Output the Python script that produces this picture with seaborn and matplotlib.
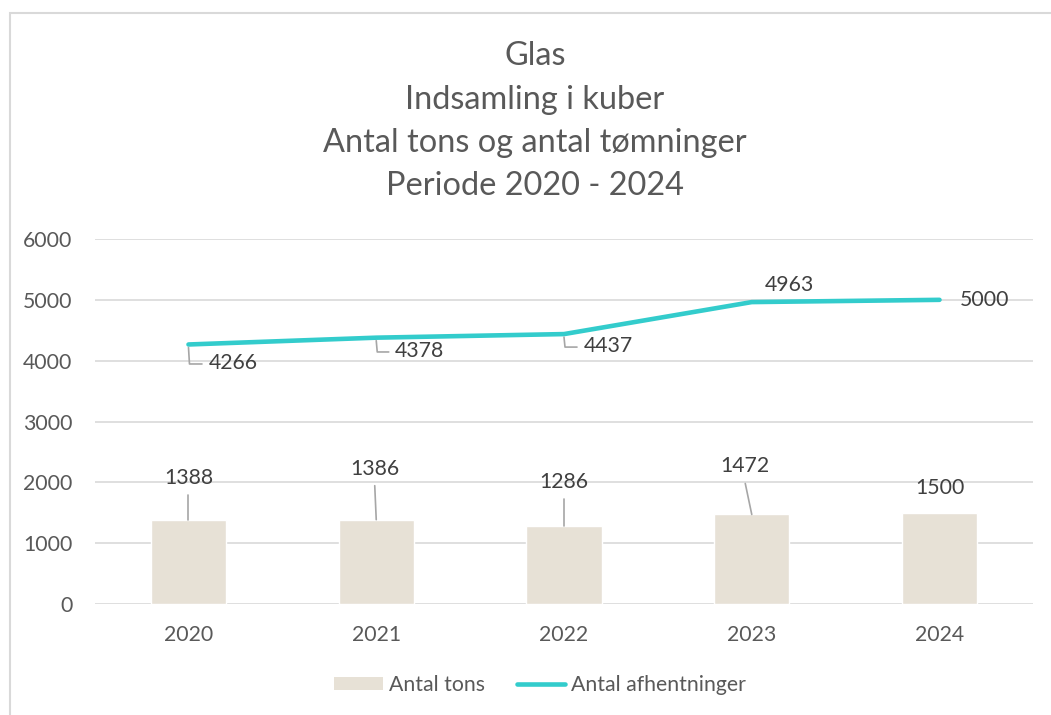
import numpy as np
import pandas as pd
import matplotlib.pyplot as plt
import seaborn as sns
from matplotlib.lines import Line2D
from matplotlib.patches import Rectangle, Patch
from matplotlib.transforms import IdentityTransform

# data
years = ['2020', '2021', '2022', '2023', '2024']
tons = [1388, 1386, 1286, 1472, 1500]
pickups = [4266, 4378, 4437, 4963, 5000]
title_lines = ['Glas', 'Indsamling i kuber', 'Antal tons og antal tømninger', 'Periode 2020 - 2024']

BAR_COLOR = '#E7E1D6'
LINE_COLOR = '#33CCCC'
GRID_COLOR = '#D9D9D9'
TEXT_COLOR = '#595959'
LABEL_COLOR = '#404040'
FS = 15.3

sns.set_theme(style='white')
plt.rcParams['font.family'] = ['Lato', 'DejaVu Sans']

W, H = 1051, 715
fig = plt.figure(figsize=(W / 100, H / 100), dpi=100)

# ramme rundt om diagrammet
fig.add_artist(Rectangle((10, -20), W + 20, H + 20 - 13, transform=IdentityTransform(),
                         fill=False, edgecolor=GRID_COLOR, linewidth=1.5))

ax = fig.add_axes([94.6 / W, 1 - 604 / H, (1033.4 - 94.6) / W, (604 - 239) / H])

df = pd.DataFrame({'år': years, 'tons': tons, 'afhentninger': pickups})
sns.barplot(data=df, x='år', y='tons', color=BAR_COLOR, width=0.4, saturation=1, ax=ax)
sns.lineplot(x=np.arange(len(years)), y=pickups, color=LINE_COLOR, linewidth=3.3,
             solid_capstyle='round', ax=ax)

ax.set_xlim(-0.5, len(years) - 0.5)
ax.set_ylim(0, 6000)
ax.set_yticks(range(0, 6001, 1000))
ax.set_xlabel('')
ax.set_ylabel('')
ax.grid(axis='y', color=GRID_COLOR, linewidth=1.2)
ax.set_axisbelow(True)
for s in ax.spines.values():
    s.set_visible(False)
ax.tick_params(axis='both', length=0, labelsize=FS, labelcolor=TEXT_COLOR)
ax.tick_params(axis='y', pad=16)
ax.tick_params(axis='x', pad=15)

# titel, en linje ad gangen
for txt, base in zip(title_lines, [65, 109, 152, 195]):
    fig.text(535 / W, 1 - base / H, txt, ha='center', va='baseline',
             fontsize=23.4, color=TEXT_COLOR)

# dataetiketter (pixel-forskydning: dx, dy opad)
bar_offsets = [(0, 42), (-1.5, 51), (0, 44), (-6.5, 48), (0, 25)]
line_offsets = [(44.5, -18.5), (43.5, -13.3), (44, -12), (38, 17), (45.5, 0)]
leader_kw = dict(color='#A6A6A6', linewidth=1.2, transform=IdentityTransform())

for i, (v, (dx, dy)) in enumerate(zip(tons, bar_offsets)):
    px, py = ax.transData.transform((i, v))
    lx, ly = px + dx, py + dy
    fig.text(lx / W, ly / H, str(v), ha='center', va='center', fontsize=FS, color=LABEL_COLOR)
    if dy > 35:
        fig.add_artist(Line2D([px, lx], [py, ly - 17], **leader_kw))

for i, (v, (dx, dy)) in enumerate(zip(pickups, line_offsets)):
    px, py = ax.transData.transform((i, v))
    lx, ly = px + dx, py + dy
    fig.text(lx / W, ly / H, str(v), ha='center', va='center', fontsize=FS, color=LABEL_COLOR)
    if dy < -10:
        fig.add_artist(Line2D([px, px + 1, lx - 31], [py - 3, ly - 1, ly - 1], **leader_kw))

# forklaring
handles = [Patch(facecolor=BAR_COLOR, edgecolor='none', label='Antal tons'),
           Line2D([], [], color=LINE_COLOR, linewidth=3.3, solid_capstyle='round',
                  label='Antal afhentninger')]
fig.legend(handles=handles, loc='center', bbox_to_anchor=(540 / W, 1 - 685 / H), ncol=2,
           frameon=False, fontsize=FS, labelcolor=TEXT_COLOR, handlelength=2.3,
           handletextpad=0.25, columnspacing=1.5, handleheight=0.6)

fig.savefig('out.png', dpi=100)
